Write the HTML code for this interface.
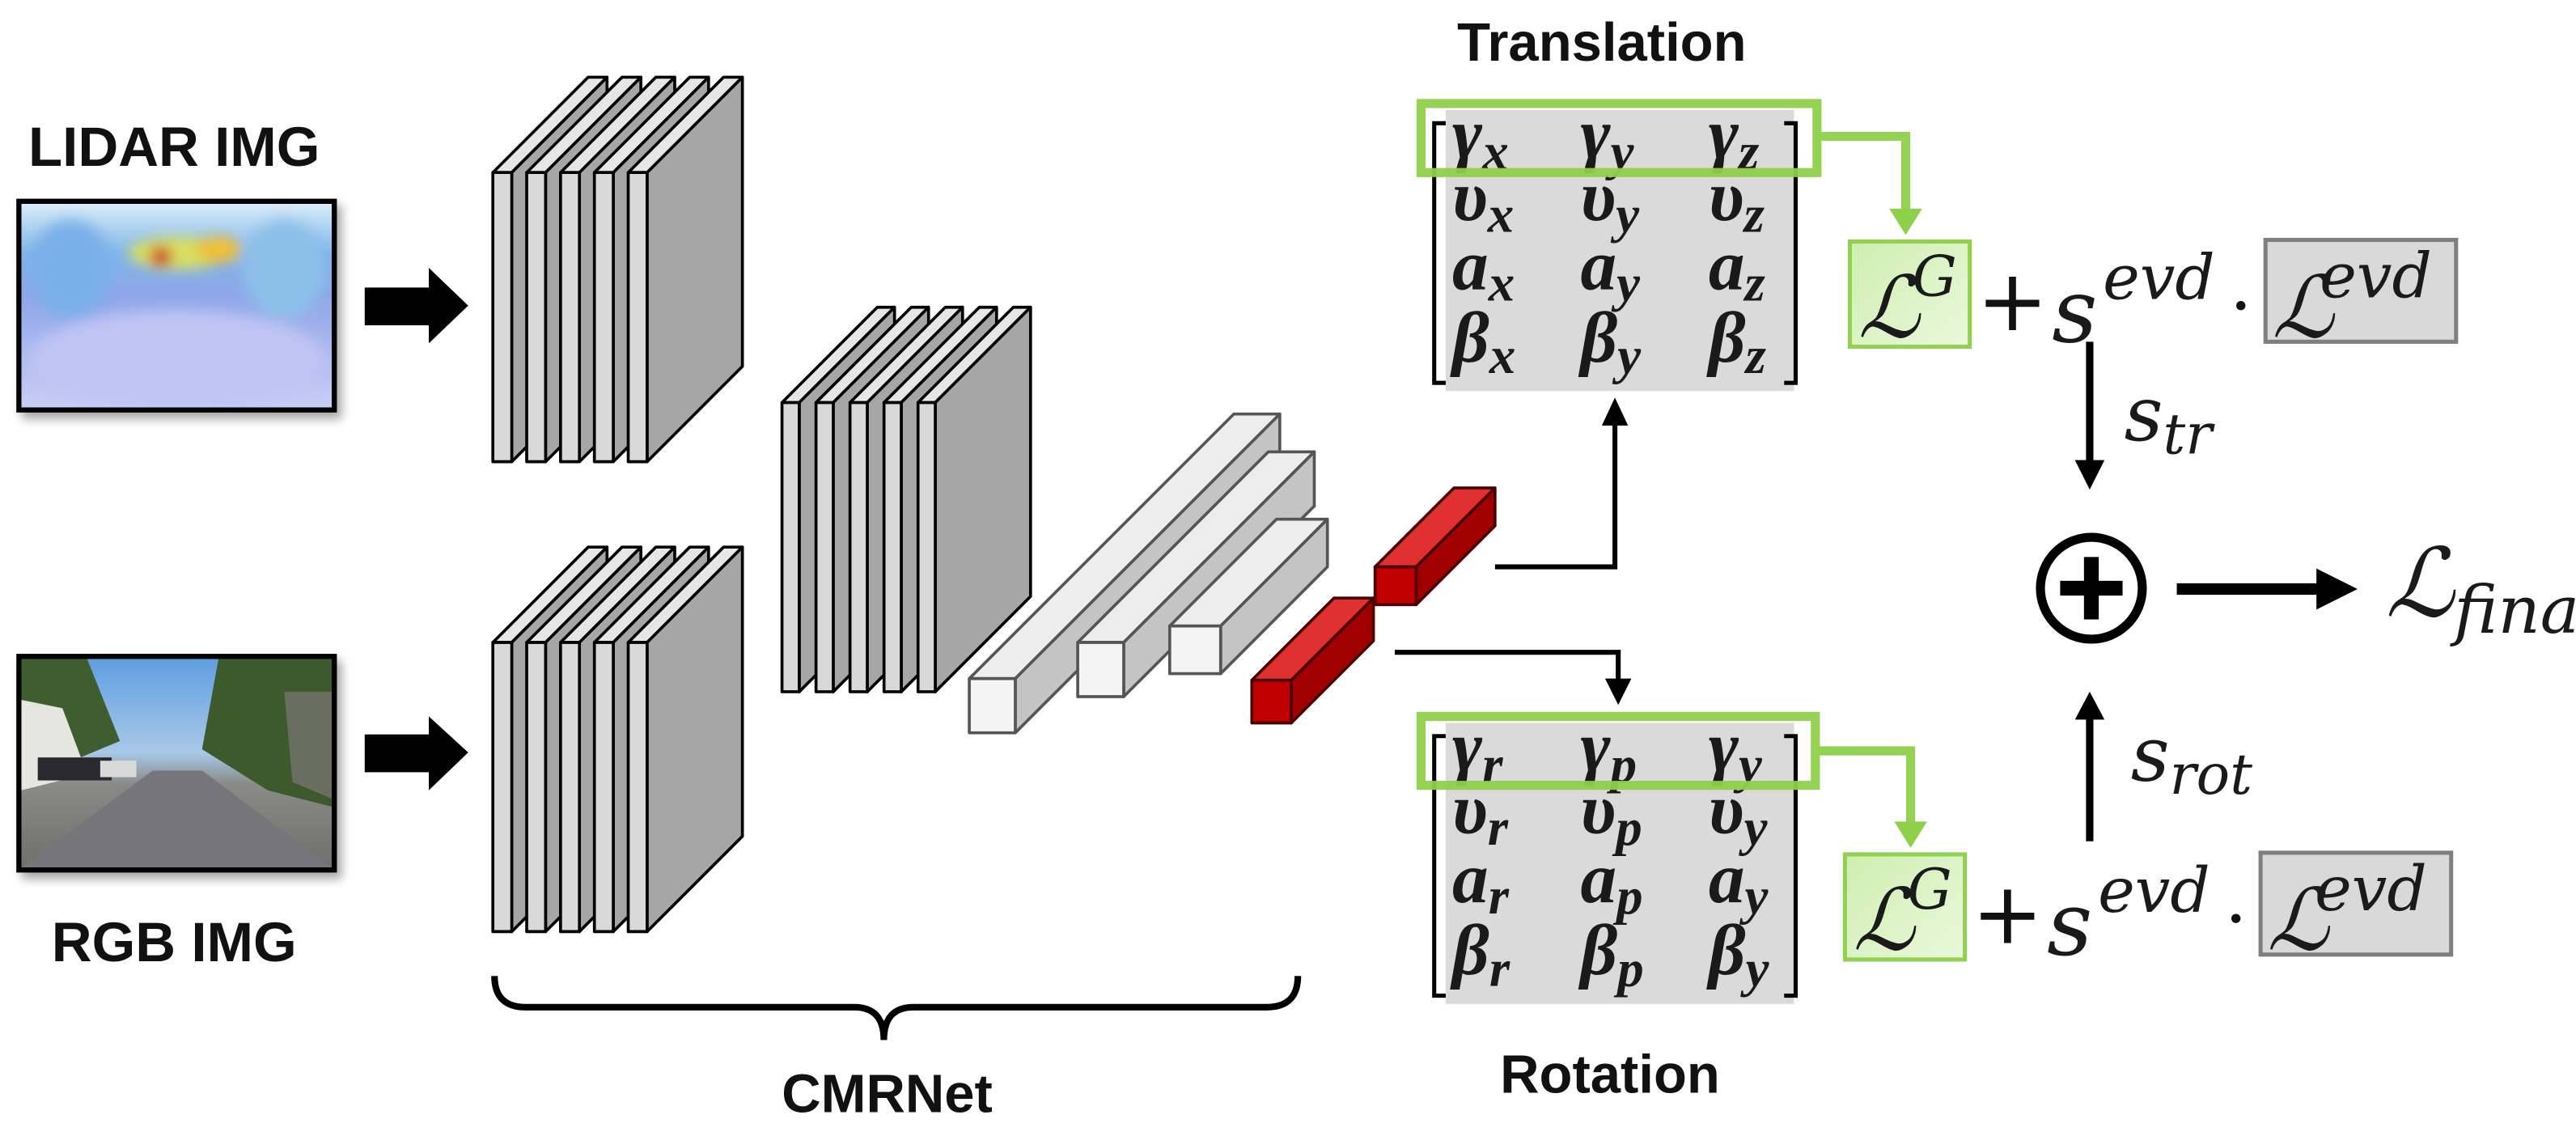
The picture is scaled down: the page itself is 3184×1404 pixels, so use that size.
<!DOCTYPE html>
<html><head><meta charset="utf-8"><style>
html,body{margin:0;padding:0;background:#fff;}
svg{display:block;}
.lbl{font-family:"Liberation Sans",sans-serif;font-weight:bold;fill:#111;}
.m{font-family:"Liberation Serif","DejaVu Serif",serif;font-weight:bold;font-style:italic;fill:#1a1a1a;}
.mi{font-family:"DejaVu Serif","Liberation Serif",serif;font-style:italic;fill:#1a1a1a;}
</style></head><body>
<svg width="3184" height="1404" viewBox="0 0 1568 691.4" xmlns="http://www.w3.org/2000/svg">
<defs>
<linearGradient id="lid" x1="0" y1="0" x2="0" y2="1">
<stop offset="0" stop-color="#d8ecf8"/><stop offset="0.25" stop-color="#7fb4ea"/><stop offset="0.45" stop-color="#8fa6e8"/><stop offset="1" stop-color="#c8cdf6"/>
</linearGradient>
<linearGradient id="rgb" x1="0" y1="0" x2="0" y2="1">
<stop offset="0" stop-color="#5f9fe0"/><stop offset="0.45" stop-color="#a9c8e8"/><stop offset="0.6" stop-color="#8a8a86"/><stop offset="1" stop-color="#6f6f6c"/>
</linearGradient>
<linearGradient id="lg" x1="0" y1="0" x2="1" y2="1">
<stop offset="0" stop-color="#cfeeb0"/><stop offset="1" stop-color="#e9f8dc"/>
</linearGradient>
<filter id="sh"><feDropShadow dx="3" dy="4" stdDeviation="3" flood-color="#000" flood-opacity="0.35"/></filter>
<filter id="bl"><feGaussianBlur stdDeviation="4"/></filter>
</defs>

<text class="lbl" x="106" y="101" font-size="34" text-anchor="middle">LIDAR IMG</text>
<text class="lbl" x="106" y="585" font-size="34" text-anchor="middle">RGB IMG</text>
<text class="lbl" x="540" y="677" font-size="33" text-anchor="middle">CMRNet</text>
<text class="lbl" x="975" y="37" font-size="33" text-anchor="middle">Translation</text>
<text class="lbl" x="980" y="665" font-size="33" text-anchor="middle">Rotation</text>

<g filter="url(#sh)"><rect x="10" y="121" width="195" height="130" fill="#000"/></g>
<svg x="13" y="124" width="189" height="124" viewBox="0 0 189 124">
<rect width="189" height="124" fill="url(#lid)"/>
<g filter="url(#bl)">
<ellipse cx="95" cy="30" rx="30" ry="10" fill="#d8e060"/>
<ellipse cx="120" cy="28" rx="14" ry="8" fill="#f0c030"/>
<ellipse cx="85" cy="32" rx="7" ry="6" fill="#d03020"/>
<ellipse cx="30" cy="40" rx="25" ry="30" fill="#7ab0e8"/>
<ellipse cx="160" cy="40" rx="25" ry="30" fill="#8cc0ea"/>
<ellipse cx="95" cy="95" rx="90" ry="30" fill="#c0c4f4"/>
</g>
</svg>
<rect x="11.5" y="122.5" width="192" height="127" fill="none" stroke="#000" stroke-width="3"/>

<g filter="url(#sh)"><rect x="10" y="398" width="195" height="133" fill="#000"/></g>
<svg x="13" y="401" width="189" height="127" viewBox="0 0 189 127">
<rect width="189" height="127" fill="url(#rgb)"/>
<polygon points="0,0 40,0 60,50 0,75" fill="#3f5e30"/>
<polygon points="0,25 25,30 40,70 0,80" fill="#e6e6e0"/>
<polygon points="120,0 189,0 189,90 150,80 110,55" fill="#3c5a2c"/>
<polygon points="160,20 189,20 189,85 165,75" fill="#6a6e60"/>
<polygon points="0,127 80,68 110,68 189,127" fill="#76767a"/>
<rect x="10" y="60" width="45" height="14" fill="#2a2a2e"/>
<rect x="48" y="62" width="22" height="10" fill="#d8d8d8"/>
</svg>
<rect x="11.5" y="399.5" width="192" height="130" fill="none" stroke="#000" stroke-width="3"/>

<rect x="222" y="175" width="42" height="23" fill="#000"/>
<polygon points="261,163 285,186 261,209" fill="#000"/>
<rect x="222" y="447" width="42" height="23" fill="#000"/>
<polygon points="261,436 285,458 261,481" fill="#000"/>

<g stroke="#000" stroke-width="1.8" stroke-linejoin="round">
<g id="s1">
<polygon points="300,105 358,47 369.5,47 311.5,105" fill="#e6e6e6"/><polygon points="311.5,105 369.5,47 369.5,223 311.5,281" fill="#a6a6a6"/><rect x="300" y="105" width="11.5" height="176" fill="#d9d9d9"/>
<polygon points="320.6,105 378.6,47 390.1,47 332.1,105" fill="#e6e6e6"/><polygon points="332.1,105 390.1,47 390.1,223 332.1,281" fill="#a6a6a6"/><rect x="320.6" y="105" width="11.5" height="176" fill="#d9d9d9"/>
<polygon points="341.2,105 399.2,47 410.7,47 352.7,105" fill="#e6e6e6"/><polygon points="352.7,105 410.7,47 410.7,223 352.7,281" fill="#a6a6a6"/><rect x="341.2" y="105" width="11.5" height="176" fill="#d9d9d9"/>
<polygon points="361.8,105 419.8,47 431.3,47 373.3,105" fill="#e6e6e6"/><polygon points="373.3,105 431.3,47 431.3,223 373.3,281" fill="#a6a6a6"/><rect x="361.8" y="105" width="11.5" height="176" fill="#d9d9d9"/>
<polygon points="382.4,105 440.4,47 451.9,47 393.9,105" fill="#e6e6e6"/><polygon points="393.9,105 451.9,47 451.9,223 393.9,281" fill="#a6a6a6"/><rect x="382.4" y="105" width="11.5" height="176" fill="#d9d9d9"/>
</g>
<use href="#s1" y="286"/>
<g>
<polygon points="476,245 534,187 544.5,187 486.5,245" fill="#e6e6e6"/><polygon points="486.5,245 544.5,187 544.5,363 486.5,421" fill="#a6a6a6"/><rect x="476" y="245" width="10.5" height="176" fill="#d9d9d9"/>
<polygon points="496.7,245 554.7,187 565.2,187 507.2,245" fill="#e6e6e6"/><polygon points="507.2,245 565.2,187 565.2,363 507.2,421" fill="#a6a6a6"/><rect x="496.7" y="245" width="10.5" height="176" fill="#d9d9d9"/>
<polygon points="517.4,245 575.4,187 585.9,187 527.9,245" fill="#e6e6e6"/><polygon points="527.9,245 585.9,187 585.9,363 527.9,421" fill="#a6a6a6"/><rect x="517.4" y="245" width="10.5" height="176" fill="#d9d9d9"/>
<polygon points="538.1,245 596.1,187 606.6,187 548.6,245" fill="#e6e6e6"/><polygon points="548.6,245 606.6,187 606.6,363 548.6,421" fill="#a6a6a6"/><rect x="538.1" y="245" width="10.5" height="176" fill="#d9d9d9"/>
<polygon points="558.8,245 616.8,187 627.3,187 569.3,245" fill="#e6e6e6"/><polygon points="569.3,245 627.3,187 627.3,363 569.3,421" fill="#a6a6a6"/><rect x="558.8" y="245" width="10.5" height="176" fill="#d9d9d9"/>
</g>
</g>

<g stroke="#555" stroke-width="1.8" stroke-linejoin="round">
<polygon points="590,413 751,252 779,252 618,413" fill="#ededed"/><polygon points="618,413 779,252 779,285 618,446" fill="#c4c4c4"/><rect x="590" y="413" width="28" height="33" fill="#f4f4f4"/>
<polygon points="656,391 772,275 800,275 684,391" fill="#ededed"/><polygon points="684,391 800,275 800,308 684,424" fill="#c4c4c4"/><rect x="656" y="391" width="28" height="33" fill="#f4f4f4"/>
<polygon points="712,381 777,316 808,316 743,381" fill="#ededed"/><polygon points="743,381 808,316 808,345 743,410" fill="#c4c4c4"/><rect x="712" y="381" width="31" height="29" fill="#f4f4f4"/>
</g>
<g stroke="#4a0000" stroke-width="1.8" stroke-linejoin="round">
<polygon points="837,345 885,297 910,297 862,345" fill="#e03030"/><polygon points="862,345 910,297 910,320 862,368" fill="#a00000"/><rect x="837" y="345" width="25" height="23" fill="#c00000"/>
<polygon points="762,414 812,364 836,364 786,414" fill="#e03030"/><polygon points="786,414 836,364 836,390 786,440" fill="#a00000"/><rect x="762" y="414" width="24" height="26" fill="#c00000"/>
</g>

<polyline points="910,345 983,345 983,258" fill="none" stroke="#000" stroke-width="3"/>
<polygon points="975,259 991,259 983,242" fill="#000"/>
<polyline points="849,397 985,397 985,414" fill="none" stroke="#000" stroke-width="3"/>
<polygon points="977,413 993,413 985,429" fill="#000"/>

<path d="M301,594 Q301,613 320,613 L520,613 Q538,613 538,633 Q538,613 556,613 L771,613 Q790,613 790,594" fill="none" stroke="#000" stroke-width="4"/>

<g id="mat">
<rect x="880" y="67" width="212" height="171" fill="#dadada"/>
<path d="M880,75 h-7 v158 h7 M1086,75 h7 v158 h-7" fill="none" stroke="#000" stroke-width="2.5"/>
</g>
<use href="#mat" y="373"/>
<g class="m" font-size="44">
<text x="884" y="96">γ<tspan font-size="32" dy="7">x</tspan></text>
<text x="962" y="96">γ<tspan font-size="32" dy="7">y</tspan></text>
<text x="1040" y="96">γ<tspan font-size="32" dy="7">z</tspan></text>
<text x="884" y="134">υ<tspan font-size="32" dy="7">x</tspan></text>
<text x="962" y="134">υ<tspan font-size="32" dy="7">y</tspan></text>
<text x="1040" y="134">υ<tspan font-size="32" dy="7">z</tspan></text>
<text x="884" y="176">a<tspan font-size="32" dy="7">x</tspan></text>
<text x="962" y="176">a<tspan font-size="32" dy="7">y</tspan></text>
<text x="1040" y="176">a<tspan font-size="32" dy="7">z</tspan></text>
<text x="884" y="220">β<tspan font-size="32" dy="7">x</tspan></text>
<text x="962" y="220">β<tspan font-size="32" dy="7">y</tspan></text>
<text x="1040" y="220">β<tspan font-size="32" dy="7">z</tspan></text>

<text x="884" y="469">γ<tspan font-size="32" dy="7">r</tspan></text>
<text x="962" y="469">γ<tspan font-size="32" dy="7">p</tspan></text>
<text x="1040" y="469">γ<tspan font-size="32" dy="7">y</tspan></text>
<text x="884" y="507">υ<tspan font-size="32" dy="7">r</tspan></text>
<text x="962" y="507">υ<tspan font-size="32" dy="7">p</tspan></text>
<text x="1040" y="507">υ<tspan font-size="32" dy="7">y</tspan></text>
<text x="884" y="549">a<tspan font-size="32" dy="7">r</tspan></text>
<text x="962" y="549">a<tspan font-size="32" dy="7">p</tspan></text>
<text x="1040" y="549">a<tspan font-size="32" dy="7">y</tspan></text>
<text x="884" y="593">β<tspan font-size="32" dy="7">r</tspan></text>
<text x="962" y="593">β<tspan font-size="32" dy="7">p</tspan></text>
<text x="1040" y="593">β<tspan font-size="32" dy="7">y</tspan></text>
</g>

<g fill="none" stroke="#8fd04a" stroke-width="5.5" opacity="0.95">
<rect x="865" y="63" width="241" height="42"/>
<rect x="865" y="436" width="240" height="42"/>
<polyline points="1106,83 1160,83 1160,128"/>
<polyline points="1105,457 1163,457 1163,501"/>
</g>
<polygon points="1150,127 1170,127 1160,143" fill="#8fd04a"/>
<polygon points="1153,500 1173,500 1163,516" fill="#8fd04a"/>

<g id="loss">
<rect x="1126" y="147" width="73" height="64" fill="url(#lg)" stroke="#92d050" stroke-width="2.5"/>
<text class="mi" x="1131" y="205" font-size="52">ℒ</text>
<text class="mi" x="1164" y="180" font-size="34">G</text>
<text x="1225" y="201" font-size="52" text-anchor="middle" font-family="DejaVu Sans,sans-serif" fill="#111">+</text>
<text class="mi" x="1249" y="208" font-size="54">s</text>
<text class="mi" x="1280" y="182" font-size="38">evd</text>
<circle cx="1364" cy="186" r="2.8" fill="#111"/>
<rect x="1379" y="146" width="116" height="62" fill="#d9d9d9" stroke="#7f7f7f" stroke-width="2.5"/>
<text class="mi" x="1383" y="205" font-size="52">ℒ</text>
<text class="mi" x="1412" y="181" font-size="38">evd</text>
</g>
<use href="#loss" x="-3" y="373"/>

<line x1="1272" y1="208" x2="1272" y2="282" stroke="#000" stroke-width="4.5"/>
<polygon points="1263,280 1281,280 1272,298" fill="#000"/>
<text class="mi" x="1293" y="268" font-size="46">s<tspan font-size="34" dy="8">tr</tspan></text>
<line x1="1272" y1="512" x2="1272" y2="436" stroke="#000" stroke-width="4.5"/>
<polygon points="1263,438 1281,438 1272,421" fill="#000"/>
<text class="mi" x="1297" y="475" font-size="46">s<tspan font-size="34" dy="8">rot</tspan></text>

<circle cx="1273" cy="358" r="31" fill="none" stroke="#000" stroke-width="5.5"/>
<rect x="1254" y="353.5" width="38" height="9" fill="#000"/>
<rect x="1268.5" y="339" width="9" height="38" fill="#000"/>
<rect x="1325" y="355" width="88" height="7" fill="#000"/>
<polygon points="1410,346 1435,358.5 1410,371" fill="#000"/>
<text class="mi" x="1452" y="375" font-size="58">ℒ<tspan font-size="40" dy="10">fina</tspan></text>
</svg>
</body></html>
